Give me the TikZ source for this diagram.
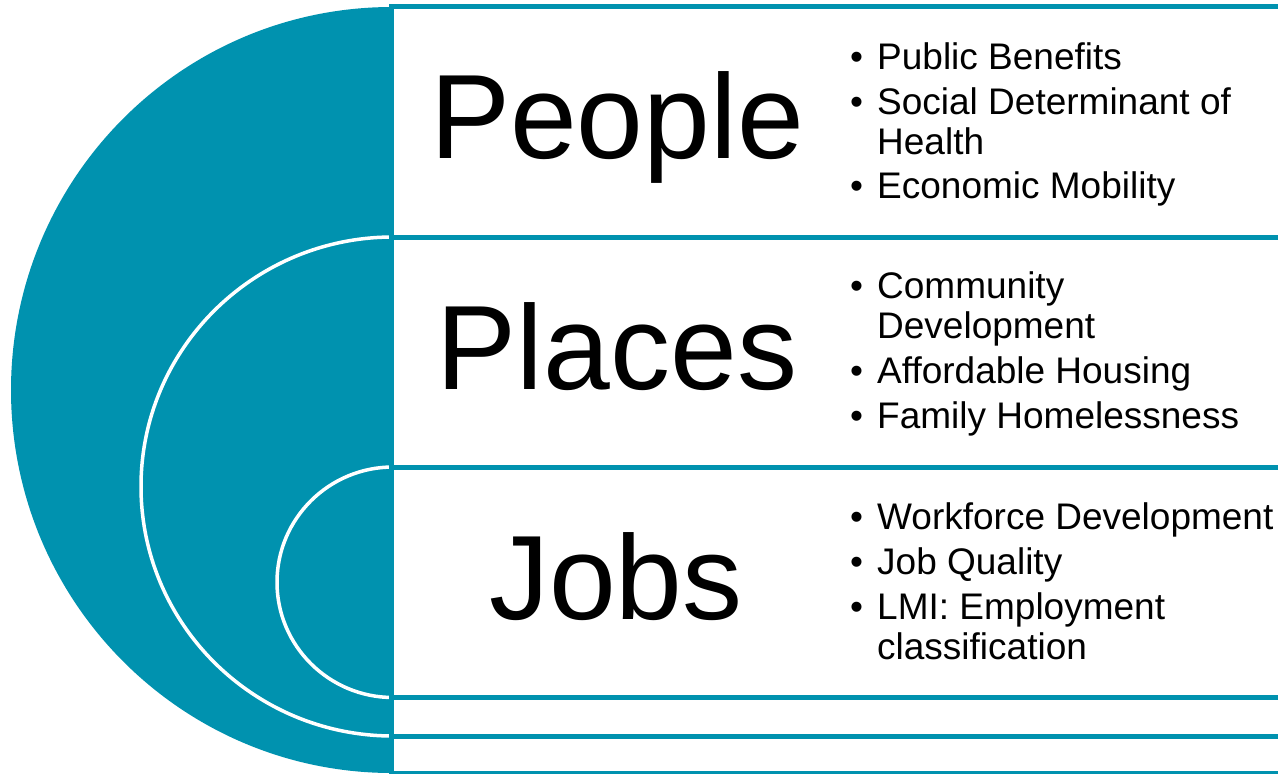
\documentclass[tikz,border=0pt]{standalone}
\usepackage{fontspec}
\setmainfont{Liberation Sans}
\definecolor{tealA}{RGB}{0,146,175}
\newcommand\bul{\makebox[27pt][l]{•}}
\newcommand\ind{\hspace*{27pt}}
\begin{document}
\begin{tikzpicture}[x=1pt,y=-1pt,
  box/.style={draw=tealA,line width=5pt,fill=white,rectangle,anchor=north west,inner sep=0pt,outer sep=0pt,minimum width=920pt},
  arcline/.style={draw=white,line width=3.5pt},
  big/.style={font=\fontsize{120}{120}\selectfont,anchor=base,inner sep=0pt},
  item/.style={font=\fontsize{37}{40}\selectfont,anchor=base west,inner sep=0pt}]
\useasboundingbox (0,0) rectangle (1278,774);
\clip (0,0) rectangle (1278,774);
% left half discs
\fill[tealA] (392,7) arc[start angle=-90,end angle=-270,x radius=381,y radius=383] -- cycle;
\draw[arcline] (393,237) arc[start angle=-90,end angle=-270,x radius=252,y radius=249.5];
\draw[arcline] (393,467) arc[start angle=-90,end angle=-270,x radius=116,y radius=115.25];
% boxes
\node[box,minimum height=766.5pt] (people) at (391.5,6.5) {};
\node[box,minimum height=499.5pt] (places) at (391.5,237) {};
\node[box,minimum height=230.5pt] (jobs) at (391.5,467) {};
% titles
\node[big] (tPeople) at (617,158) {People};
\node[big] (tPlaces) at (617,389) {Places};
\node[big] (tJobs) at (616,619) {Jobs};
% bullets
\node[item] (p1) at (850,69) {\bul Public Benefits};
\node[item] (p2) at (850,114) {\parbox[t]{420pt}{\bul Social Determinant of\\\ind Health}};
\node[item] (p3) at (850,198) {\bul Economic Mobility};
\node[item] (l1) at (850,298) {\parbox[t]{420pt}{\bul Community\\\ind Development}};
\node[item] (l2) at (850,383) {\bul Affordable Housing};
\node[item] (l3) at (850,428) {\bul Family Homelessness};
\node[item] (j1) at (850,529) {\bul Workforce Development};
\node[item] (j2) at (850,574) {\bul Job Quality};
\node[item] (j3) at (850,619) {\parbox[t]{420pt}{\bul LMI: Employment\\\ind classification}};
\end{tikzpicture}
\end{document}
